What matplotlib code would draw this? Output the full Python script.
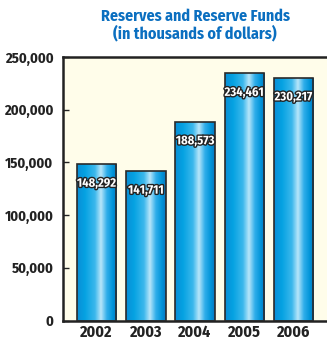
import matplotlib.pyplot as plt
import matplotlib.patheffects as pe
from matplotlib.colors import LinearSegmentedColormap
import numpy as np

plt.rcParams['font.family'] = ['Fira Sans Condensed', 'DejaVu Sans']
plt.rcParams['font.weight'] = 'bold'

# Data
years = ['2002', '2003', '2004', '2005', '2006']
reserves = [148292, 141711, 188573, 234461, 230217]
yticks = [0, 50000, 100000, 150000, 200000, 250000]

fig = plt.figure(figsize=(3.27, 3.41), dpi=100)
ax = fig.add_axes([0.193, 0.060, 0.807, 0.773])
ax.set_facecolor('#fffdea')

x = np.arange(len(years))
bars = ax.bar(x, reserves, 0.8, facecolor='none', edgecolor='#2a2a2a', linewidth=1.2, zorder=3)

# horizontal gradient inside each bar
cmap = LinearSegmentedColormap.from_list('barblue', [
    (0.0, '#0a8ed6'), (0.2, '#05a2e2'), (0.45, '#3cb8ec'),
    (0.6, '#b8e6fa'), (0.75, '#30aeea'), (0.9, '#0094d8'), (1.0, '#0a78c0')])
grad = np.linspace(0, 1, 256).reshape(1, -1)
for b in bars:
    x0, w, h = b.get_x(), b.get_width(), b.get_height()
    im = ax.imshow(grad, cmap=cmap, aspect='auto', extent=[x0, x0 + w, 0, h], zorder=2)
    im.set_clip_path(b)

for xi, v in zip(x, reserves):
    ax.text(xi, v - 18000, f'{v:,}', ha='center', va='center', color='white', fontsize=9,
            fontweight='bold', zorder=4,
            path_effects=[pe.withStroke(linewidth=2, foreground='#222222')])

ax.set_xlim(-0.68, 4.68)
ax.set_ylim(0, 250000)
ax.set_xticks(x)
ax.set_xticklabels(years)
ax.set_yticks(yticks)
ax.set_yticklabels([f'{t:,}' for t in yticks])
ax.tick_params(axis='x', length=0, pad=3, labelsize=11.5, labelcolor='#222222')
ax.tick_params(axis='y', direction='in', length=4, width=1, pad=7, labelsize=10.5,
               labelcolor='#222222', color='#222222')
ax.spines['right'].set_visible(False)
for s in ['left', 'top', 'bottom']:
    ax.spines[s].set_color('#222222')
    ax.spines[s].set_linewidth(1.8)

fig.text(0.597, 0.975, 'Reserves and Reserve Funds\n(in thousands of dollars)', ha='center', va='top',
         color='#0b6fc0', fontsize=11.5, fontweight='bold', linespacing=1.05)

plt.savefig('out.png', dpi=100)
